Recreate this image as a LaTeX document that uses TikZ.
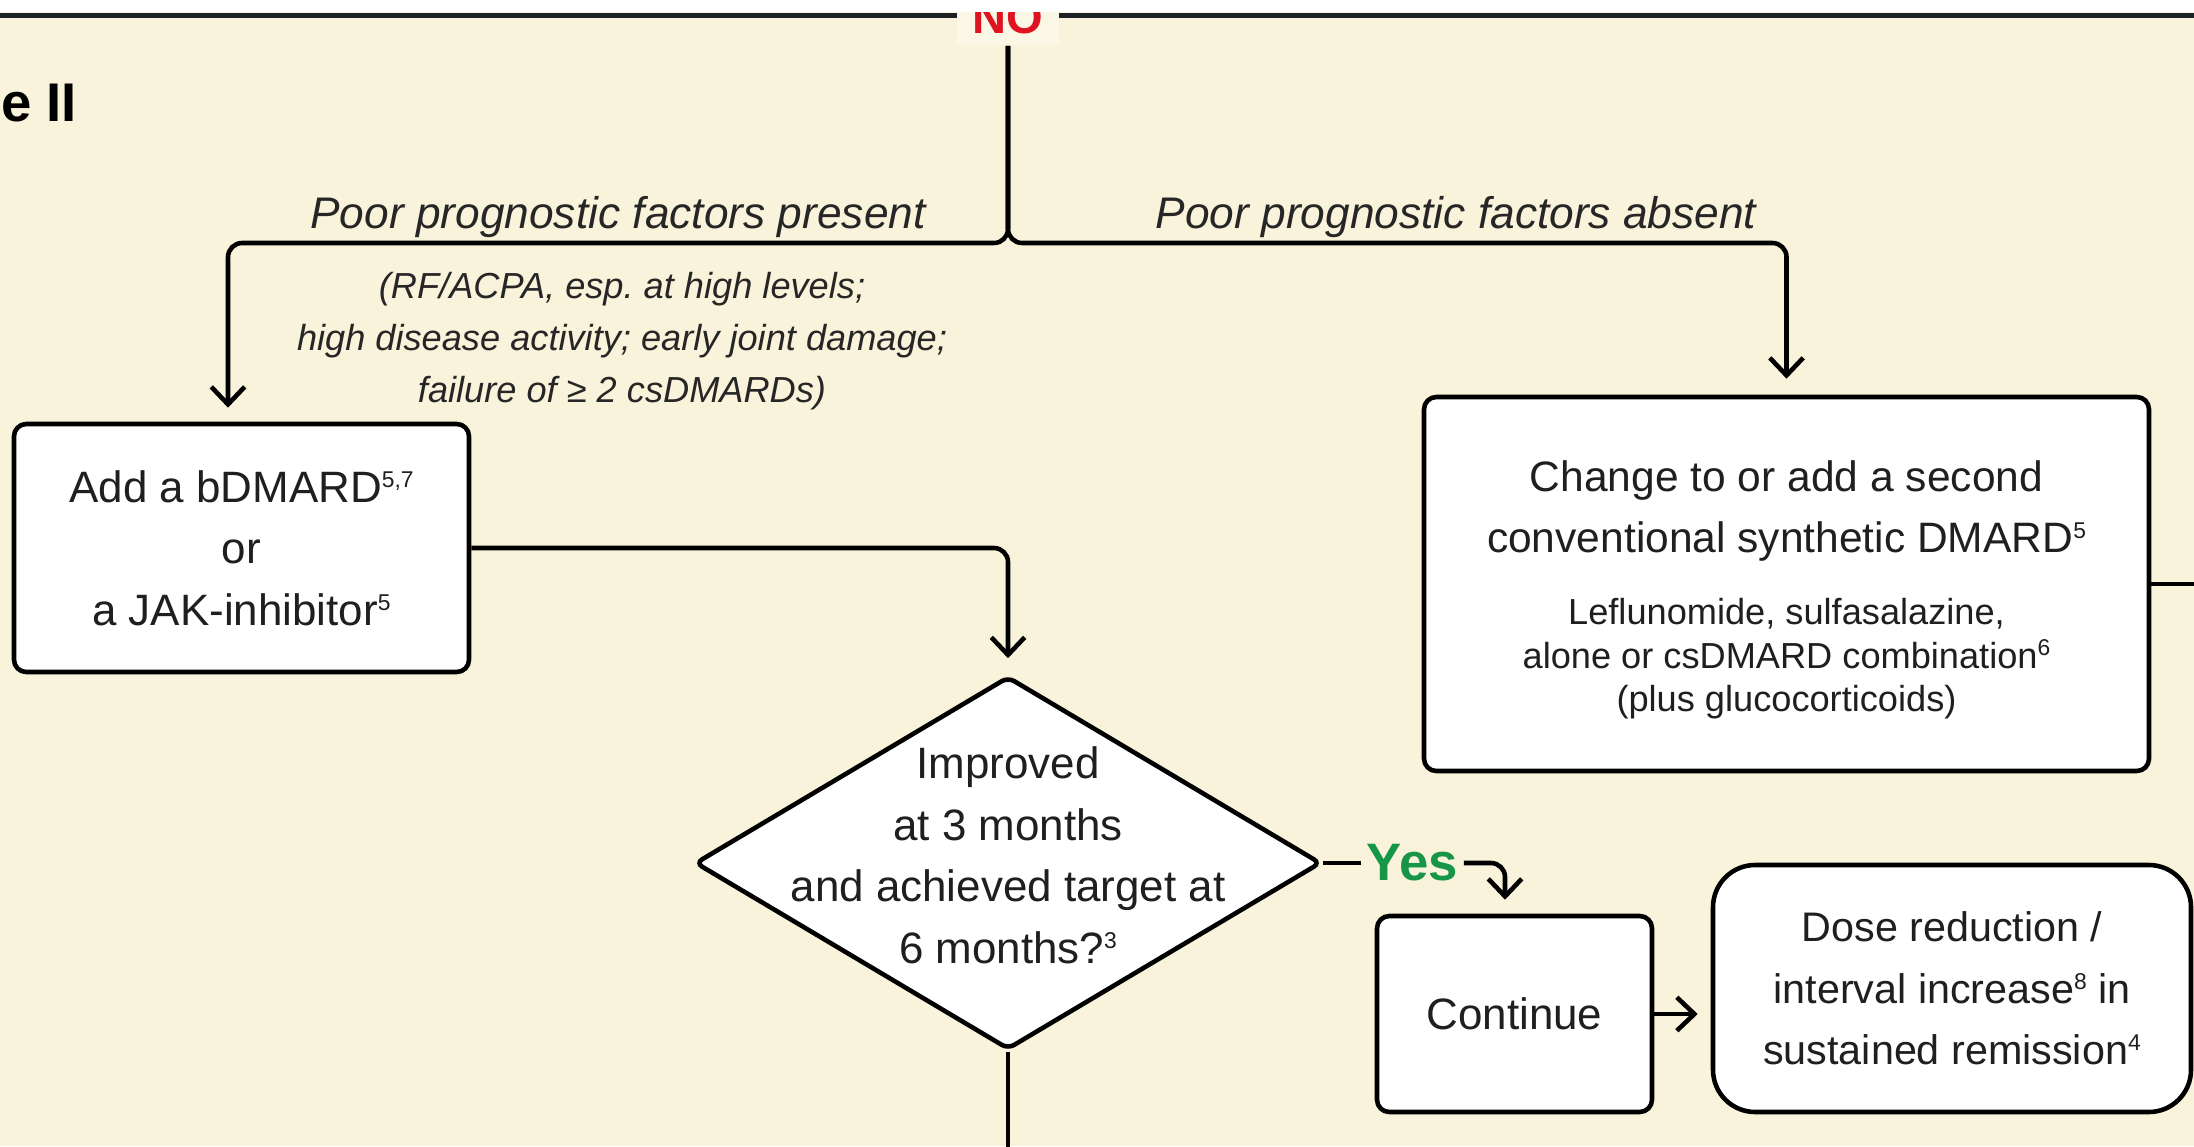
\documentclass[tikz,border=0pt]{standalone}
\usepackage{fontspec}
\setmainfont{Liberation Sans}
\usetikzlibrary{shapes.geometric, arrows.meta}

\definecolor{paper}{RGB}{250,243,219}
\definecolor{nored}{RGB}{222,20,32}
\definecolor{yesgreen}{RGB}{24,150,72}
\definecolor{rulegray}{RGB}{28,34,38}

\newcommand{\sups}[1]{\raisebox{0.34em}{\fontsize{6.5}{7}\selectfont #1}}

\begin{document}
\begin{tikzpicture}[
    wire/.style={draw=black, line width=1.3pt},
    arr/.style={wire, -{Straight Barb[length=5pt, width=9.5pt]}},
    rbox/.style={
        rectangle, draw=black, fill=white, line width=1.3pt,
        rounded corners=3.5pt, align=center, text=black!88,
        font=\fontsize{12.5}{17.5}\selectfont
    },
    decision/.style={
        diamond, draw=black, fill=white, line width=1.3pt,
        rounded corners=2pt, inner sep=0pt,
        minimum width=6.26cm, minimum height=3.73cm
    },
    qtext/.style={align=center, text=black!88, font=\fontsize{12.5}{17.5}\selectfont},
    branch/.style={font=\fontsize{12.6}{15}\selectfont\itshape, text=black!85, inner sep=0pt},
    crit/.style={align=center, font=\fontsize{10.3}{14.9}\selectfont\itshape, text=black!85}
]

\useasboundingbox (0,0) rectangle (21.94,-11.46);
\clip (0,0) rectangle (21.94,-11.46);

% --- Background and top rule ---
\fill[paper] (0,0) rectangle (21.94,-11.46);
\draw[rulegray, line width=1.5pt] (0,-0.155) -- (21.94,-0.155);

\node[font=\fontsize{15.5}{18}\selectfont\bfseries, anchor=base east, inner sep=0pt]
    (phase) at (0.775,-1.21) {Phase II};

\node[font=\fontsize{13.4}{16}\selectfont\bfseries, text=nored, fill=paper!70!white,
    inner xsep=4.4pt, inner ysep=3.2pt, anchor=base] (no) at (10.08,-0.335) {NO};

% --- Branch labels ---
\node[branch, anchor=base] (present) at (6.18,-2.28) {Poor prognostic factors present};
\node[branch, anchor=base] (absent) at (14.56,-2.28) {Poor prognostic factors absent};
\node[crit] (factors) at (6.22,-3.41) {
    (RF/ACPA, esp.\ at high levels;\\
    high disease activity; early joint damage;\\
    failure of ≥ 2 csDMARDs)
};

% --- Boxes ---
\node[rbox, minimum width=4.55cm, minimum height=2.48cm] (bdmard) at (2.415,-5.48) {
    Add a bDMARD\sups{5,7}\\
    or\\
    a JAK-inhibitor\sups{5}
};

\node[rbox, align=flush center, font=\fontsize{12.1}{17.4}\selectfont,
    minimum width=7.25cm, minimum height=3.74cm, text width=6.9cm] (csdmard) at (17.865,-5.84) {
    \rule{0pt}{12.2pt}Change to or add a second\\
    conventional synthetic DMARD\sups{5}\par\vspace{8pt}
    {\fontsize{10.3}{12.4}\selectfont Leflunomide, sulfasalazine,\\
    alone or csDMARD combination\sups{6}\\
    (plus glucocorticoids)\par}
};

\node[decision] (q) at (10.08,-8.63) {};
\node[qtext] (qlabel) at (10.08,-8.555) {
    Improved\\
    at 3 months\\
    and achieved target at\\
    6 months?\sups{3}
};

\node[font=\fontsize{15}{18}\selectfont\bfseries, text=yesgreen, inner xsep=1.5pt,
    anchor=west] (yes) at (13.61,-8.63) {Yes};

\node[rbox, minimum width=2.75cm, minimum height=1.96cm] (cont) at (15.145,-10.14) {Continue};

\node[rbox, rounded corners=12pt, font=\fontsize{11.75}{17.5}\selectfont,
    minimum width=4.78cm, minimum height=2.47cm] (dose) at (19.52,-9.885) {
    Dose reduction /\\
    interval increase\sups{8} in\\
    sustained remission\sups{4}
};

% --- Connectors ---
\coordinate (split) at (10.08,-2.43);
\coordinate (rightedge) at (22.1,0);
\coordinate (bottomedge) at (0,-11.6);

\draw[arr, rounded corners=4pt, shorten >=1.4mm] (no.south) -- (split) -| ([xshift=-1.35mm]bdmard.north);
\draw[arr, rounded corners=4pt, shorten >=1.6mm] (no.south) -- (split) -| (csdmard.north);
\draw[arr, rounded corners=4pt, shorten >=1.6mm] (bdmard.east) -| (q.north);
\draw[wire] (csdmard.east) -- (csdmard.east -| rightedge);
\draw[wire] (q.east) -- (yes.west);
\draw[arr, rounded corners=4pt, shorten >=1.4mm] (yes.east) -| ([xshift=-0.95mm]cont.north);
\draw[arr, shorten >=1.3mm] (cont.east) -- (cont.east -| dose.west);
\draw[wire] (q.south) -- (q.south |- bottomedge);

% --- Cropped top margin ---
\fill[white] (0,0) rectangle (21.94,-0.12);

\end{tikzpicture}
\end{document}
